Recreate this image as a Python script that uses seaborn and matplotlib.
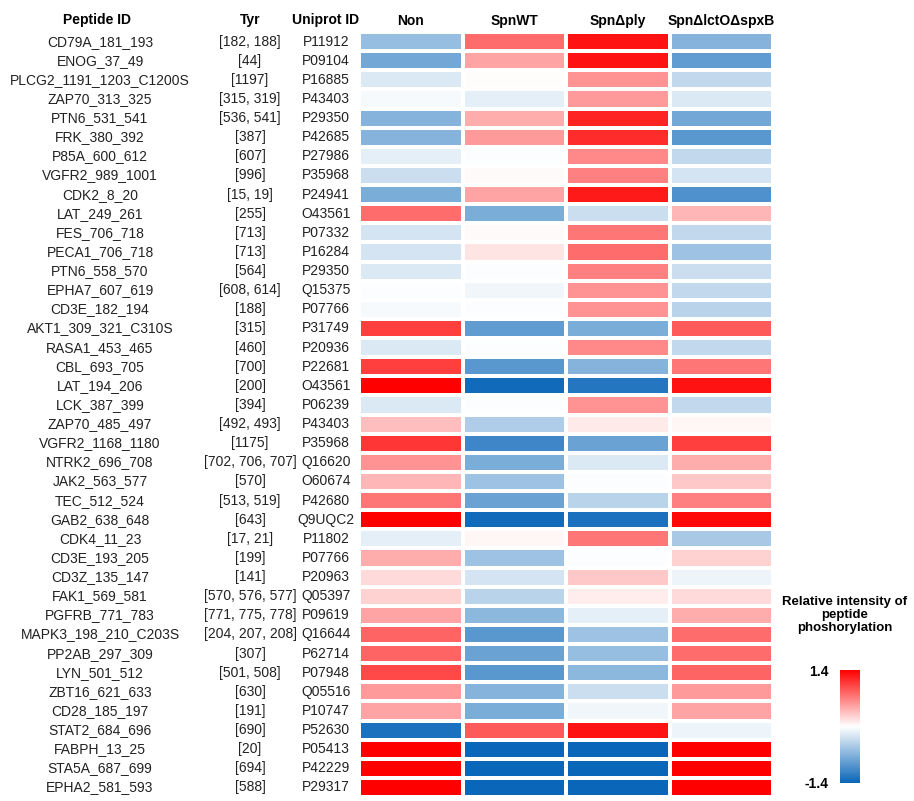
import matplotlib
matplotlib.use('Agg')
import matplotlib.pyplot as plt
import numpy as np
import pandas as pd
import seaborn as sns
from matplotlib.colors import LinearSegmentedColormap

# Peptid-Daten
peptides = ['CD79A_181_193', 'ENOG_37_49', 'PLCG2_1191_1203_C1200S', 'ZAP70_313_325',
            'PTN6_531_541', 'FRK_380_392', 'P85A_600_612', 'VGFR2_989_1001', 'CDK2_8_20',
            'LAT_249_261', 'FES_706_718', 'PECA1_706_718', 'PTN6_558_570', 'EPHA7_607_619',
            'CD3E_182_194', 'AKT1_309_321_C310S', 'RASA1_453_465', 'CBL_693_705',
            'LAT_194_206', 'LCK_387_399', 'ZAP70_485_497', 'VGFR2_1168_1180', 'NTRK2_696_708',
            'JAK2_563_577', 'TEC_512_524', 'GAB2_638_648', 'CDK4_11_23', 'CD3E_193_205',
            'CD3Z_135_147', 'FAK1_569_581', 'PGFRB_771_783', 'MAPK3_198_210_C203S',
            'PP2AB_297_309', 'LYN_501_512', 'ZBT16_621_633', 'CD28_185_197', 'STAT2_684_696',
            'FABPH_13_25', 'STA5A_687_699', 'EPHA2_581_593']
tyr = ['[182, 188]', '[44]', '[1197]', '[315, 319]', '[536, 541]', '[387]', '[607]', '[996]',
       '[15, 19]', '[255]', '[713]', '[713]', '[564]', '[608, 614]', '[188]', '[315]', '[460]',
       '[700]', '[200]', '[394]', '[492, 493]', '[1175]', '[702, 706, 707]', '[570]',
       '[513, 519]', '[643]', '[17, 21]', '[199]', '[141]', '[570, 576, 577]',
       '[771, 775, 778]', '[204, 207, 208]', '[307]', '[501, 508]', '[630]', '[191]', '[690]',
       '[20]', '[694]', '[588]']
uniprot = ['P11912', 'P09104', 'P16885', 'P43403', 'P29350', 'P42685', 'P27986', 'P35968',
           'P24941', 'O43561', 'P07332', 'P16284', 'P29350', 'Q15375', 'P07766', 'P31749',
           'P20936', 'P22681', 'O43561', 'P06239', 'P43403', 'P35968', 'Q16620', 'O60674',
           'P42680', 'Q9UQC2', 'P11802', 'P07766', 'P20963', 'Q05397', 'P09619', 'Q16644',
           'P62714', 'P07948', 'Q05516', 'P10747', 'P52630', 'P05413', 'P42229', 'P29317']

conditions = ['Non', 'SpnWT', 'Spn\u0394ply', 'Spn\u0394lctO\u0394spxB']

non = [-0.6, -0.8, -0.2, -0.05, -0.7, -0.7, -0.15, -0.3, -0.75, 0.8,
       -0.25, -0.25, -0.2, -0.02, -0.05, 1.05, -0.2, 1.05, 1.4, -0.2,
       0.35, 1.1, 0.6, 0.4, 0.75, 1.4, -0.15, 0.45, 0.2, 0.25,
       0.5, 0.85, 0.85, 1.0, 0.55, 0.5, -1.3, 1.4, 1.4, 1.4]
spnwt = [0.8, 0.5, 0.02, -0.15, 0.45, 0.55, -0.02, 0.03, 0.5, -0.75,
         0.03, 0.15, -0.02, -0.08, -0.02, -0.9, -0.02, -0.95, -1.35, -0.02,
         -0.45, -1.1, -0.75, -0.55, -0.85, -1.35, 0.05, -0.55, -0.25, -0.4,
         -0.65, -0.95, -0.85, -0.95, -0.7, -0.75, 0.9, -1.4, -1.4, -1.4]
spnply = [1.3, 1.3, 0.6, 0.55, 1.2, 1.15, 0.65, 0.7, 1.25, -0.3,
          0.75, 0.8, 0.7, 0.6, 0.6, -0.75, 0.65, -0.7, -1.25, 0.6,
          0.12, -0.85, -0.2, -0.02, -0.4, -1.3, 0.75, -0.02, 0.3, 0.1,
          -0.15, -0.55, -0.6, -0.65, -0.3, -0.08, 1.3, -1.4, -1.4, -1.4]
spnlcto = [-0.7, -0.9, -0.35, -0.2, -0.8, -0.95, -0.35, -0.25, -1.0, 0.4,
           -0.35, -0.55, -0.3, -0.35, -0.4, 0.9, -0.35, 0.75, 1.3, -0.35,
           0.05, 1.05, 0.45, 0.3, 0.7, 1.35, -0.5, 0.25, -0.1, 0.2,
           0.45, 0.8, 0.8, 0.85, 0.55, 0.5, -0.1, 1.4, 1.4, 1.4]

df = pd.DataFrame({conditions[0]: non, conditions[1]: spnwt,
                   conditions[2]: spnply, conditions[3]: spnlcto}, index=uniprot)

cmap = LinearSegmentedColormap.from_list('bwr_custom', ['#0a66b8', '#ffffff', '#ff0000'])

plt.rcParams['font.family'] = ['Liberation Sans', 'DejaVu Sans']
plt.rcParams['axes.unicode_minus'] = False
fig = plt.figure(figsize=(9.14, 8.01), dpi=100)
ax = fig.add_axes([359 / 914, 1 - 797 / 801, 414 / 914, 765 / 801])
cax = fig.add_axes([840 / 914, 1 - 783 / 801, 20 / 914, 113 / 801])

sns.heatmap(df, ax=ax, cmap=cmap, vmin=-1.4, vmax=1.4, linewidths=1.5, linecolor='white',
            cbar_ax=cax, cbar_kws={'ticks': [-1.4, 1.4]})

# Spaltenüberschriften oben
ax.xaxis.tick_top()
ax.set_xticklabels(conditions, fontsize=10, fontweight='bold', rotation=0)
ax.tick_params(axis='x', length=0, pad=3)
ax.set_yticks([])
ax.set_xlabel('')
ax.set_ylabel('')

# Textspalten links (x in Pixeln relativ zur Heatmap)
trans = ax.get_yaxis_transform()
for i in range(len(peptides)):
    y = i + 0.5
    ax.text((100 - 359) / 414, y, peptides[i], transform=trans,
            ha='center', va='center', fontsize=10, color='#222222')
    ax.text((250 - 359) / 414, y, tyr[i], transform=trans,
            ha='center', va='center', fontsize=10, color='#222222')
    ax.text((326 - 359) / 414, y, uniprot[i], transform=trans,
            ha='center', va='center', fontsize=10, color='#222222')

for xpos, head in [(97, 'Peptide ID'), (250, 'Tyr'), (326, 'Uniprot ID')]:
    fig.text(xpos / 914, 1 - 20 / 801, head, ha='center', va='center',
             fontsize=10, fontweight='bold')

# Farbskala
cbar = ax.collections[0].colorbar
cbar.outline.set_visible(False)
cax.yaxis.set_ticks_position('left')
cax.tick_params(length=0, labelsize=10, pad=8)
for t in cax.get_yticklabels():
    t.set_fontweight('bold')
fig.text(845 / 914, 1 - 615 / 801, 'Relative intensity of\npeptide\nphoshorylation',
         ha='center', va='center', fontsize=9.5, fontweight='bold', linespacing=1.15)

fig.savefig('out.png', dpi=100)
